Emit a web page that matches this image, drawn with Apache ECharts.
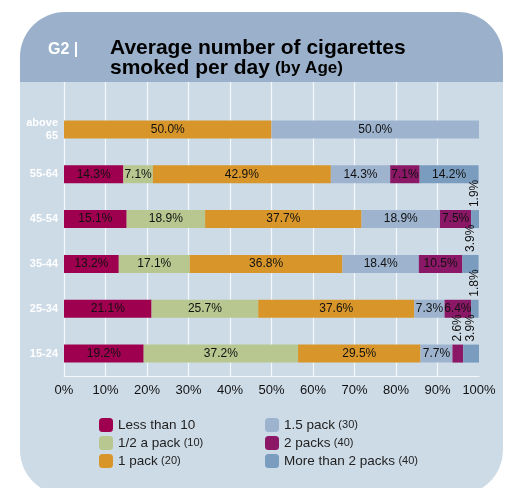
<!DOCTYPE html>
<html><head><meta charset="utf-8">
<script src="https://cdn.jsdelivr.net/npm/echarts@6/dist/echarts.min.js"></script>
<style>html,body{margin:0;padding:0;background:#fff}#c{width:508px;height:488px}</style>
</head><body><div id="c"></div>
<script>
const categories = ['above\n65', '55-64', '45-54', '35-44', '25-34', '15-24'];
const seriesNames = ['Less than 10', '1/2 a pack (10)', '1 pack (20)', '1.5 pack (30)', '2 packs (40)', 'More than 2 packs (40)'];
const lessThan10 = [0, 14.3, 15.1, 13.2, 21.1, 19.2];
const halfPack = [0, 7.1, 18.9, 17.1, 25.7, 37.2];
const onePack = [50.0, 42.9, 37.7, 36.8, 37.6, 29.5];
const onePointFivePack = [50.0, 14.3, 18.9, 18.4, 7.3, 7.7];
const twoPacks = [0, 7.1, 7.5, 10.5, 6.4, 2.6];
const moreThanTwo = [0, 14.2, 1.9, 3.9, 1.8, 3.9];
const xTicks = [0, 10, 20, 30, 40, 50, 60, 70, 80, 90, 100];

const values = [lessThan10, halfPack, onePack, onePointFivePack, twoPacks, moreThanTwo];
const colors = ['#9e004f', '#b8c790', '#d8962a', '#9db3ce', '#8a1866', '#7a9cbe'];
const narrow = '"Liberation Sans Narrow","Liberation Sans",Arial,sans-serif';
const sans = '"Liberation Sans",Arial,sans-serif';

const series = values.map((arr, i) => ({
  name: seriesNames[i],
  type: 'bar',
  stack: 'total',
  barWidth: 18,
  itemStyle: { color: colors[i] },
  label: {
    show: true,
    position: 'inside',
    fontFamily: narrow,
    fontSize: 12,
    color: '#111',
    formatter: p => p.value > 0 ? p.value.toFixed(1) + '%' : ''
  },
  data: arr.map(v => (v > 0 && v < 5) ? {
    value: v,
    label: { position: 'top', rotate: 90, align: 'left', verticalAlign: 'middle', distance: 3 }
  } : v)
}));

const gridColors = xTicks.map(t => t === 100 ? 'rgba(0,0,0,0)' : '#f5f8fb');

function legendFmt(name) {
  const m = name.match(/^(.*?)\s*(\(\d+\))$/);
  return m ? '{a|' + m[1] + '} {b|' + m[2] + '}' : '{a|' + name + '}';
}
const legendText = {
  rich: {
    a: { fontFamily: sans, fontSize: 13.5, color: '#222' },
    b: { fontFamily: sans, fontSize: 11, color: '#222' }
  }
};

const chart = echarts.init(document.getElementById('c'), null, { renderer: 'canvas' });
chart.setOption({
  animation: false,
  backgroundColor: '#ffffff',
  graphic: [
    { type: 'rect', z: -10, shape: { x: 20, y: 82, width: 483, height: 413, r: [0, 0, 45, 45] }, style: { fill: '#cddbe7' } },
    { type: 'rect', z: -10, shape: { x: 20, y: 12, width: 483, height: 70, r: [45, 45, 0, 0] }, style: { fill: '#9bb1cb' } }
  ],
  title: [
    {
      left: 110, top: 38, padding: 0,
      text: '{a|Average number of cigarettes}\n{a|smoked per day} {b|(by Age)}',
      textStyle: {
        rich: {
          a: { fontFamily: sans, fontWeight: 'bold', fontSize: 21, color: '#000', lineHeight: 20 },
          b: { fontFamily: sans, fontWeight: 'bold', fontSize: 17, color: '#000', lineHeight: 20 }
        }
      }
    },
    {
      left: 48, top: 42, padding: 0,
      text: 'G2 |',
      textStyle: { fontFamily: sans, fontWeight: 'bold', fontSize: 16, color: '#fff' }
    }
  ],
  legend: [
    {
      data: seriesNames.slice(0, 3), orient: 'vertical', left: 99, top: 418, padding: 0,
      itemWidth: 14, itemHeight: 14, itemGap: 4, icon: 'roundRect', itemStyle: { borderWidth: 0 },
      formatter: legendFmt, textStyle: legendText, selectedMode: false
    },
    {
      data: seriesNames.slice(3), orient: 'vertical', left: 265, top: 418, padding: 0,
      itemWidth: 14, itemHeight: 14, itemGap: 4, icon: 'roundRect', itemStyle: { borderWidth: 0 },
      formatter: legendFmt, textStyle: legendText, selectedMode: false
    }
  ],
  grid: [
    { left: 64, right: 29, top: 107, height: 269 },
    { left: 64, right: 29, top: 82, height: 25 }
  ],
  xAxis: [
    {
      type: 'value', gridIndex: 0, min: 0, max: 100, interval: 10,
      axisLine: { show: true, lineStyle: { color: '#f5f8fb', width: 1 } },
      axisTick: { show: false },
      splitLine: { show: true, lineStyle: { color: gridColors, width: 1.2 } },
      axisLabel: { formatter: '{value}%', fontFamily: narrow, fontSize: 13, color: '#111', margin: 8 }
    },
    {
      type: 'value', gridIndex: 1, min: 0, max: 100, interval: 10,
      axisLine: { show: false }, axisTick: { show: false }, axisLabel: { show: false },
      splitLine: { show: true, lineStyle: { color: gridColors, width: 1.2 } }
    }
  ],
  yAxis: [
    {
      type: 'category', gridIndex: 0, data: categories, inverse: true,
      axisLine: { show: false }, axisTick: { show: false },
      axisLabel: { fontFamily: sans, fontWeight: 'bold', fontSize: 11, color: '#fff', margin: 6, lineHeight: 13 }
    },
    { type: 'value', gridIndex: 1, show: false, min: 0, max: 1 }
  ],
  series: series
});
</script></body></html>
